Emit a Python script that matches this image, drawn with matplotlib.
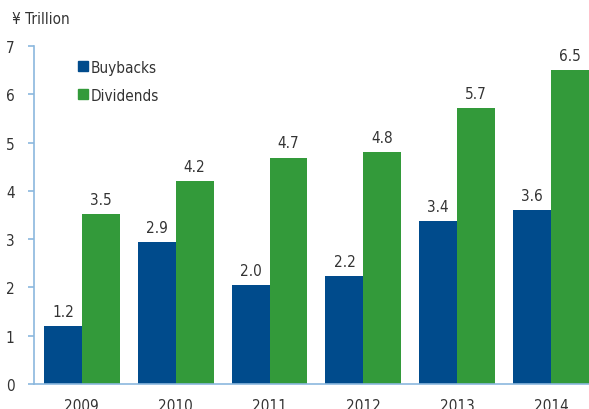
import matplotlib
matplotlib.use("Agg")
import matplotlib.pyplot as plt
import numpy as np
from matplotlib.lines import Line2D
from matplotlib import font_manager

names = {f.name for f in font_manager.fontManager.ttflist}
cond = [f for f in font_manager.fontManager.ttflist
        if f.name == "DejaVu Sans" and "ondensed" in str(f.stretch) + f.fname]
if "Liberation Sans Narrow" in names:
    plt.rcParams['font.family'] = ['Liberation Sans Narrow', 'DejaVu Sans']
else:
    plt.rcParams['font.family'] = ['DejaVu Sans']
    if cond:
        plt.rcParams['font.stretch'] = 'condensed'

years = ["2009", "2010", "2011", "2012", "2013", "2014"]
buybacks = [1.2, 2.94, 2.04, 2.24, 3.37, 3.6]
dividends = [3.52, 4.2, 4.69, 4.8, 5.71, 6.5]
yticks = [0, 1, 2, 3, 4, 5, 6, 7]

blue = "#004b8c"
green = "#339a3a"
spine = "#8bb8de"
txt = "#333333"
fs = 11

fig = plt.figure(figsize=(5.89, 4.10), dpi=100)
ax = fig.add_axes([34/589, 25/410, 555/589, 338/410])

x = np.arange(len(years))
w = 0.404
b1 = ax.bar(x - w/2, buybacks, w, color=blue)
b2 = ax.bar(x + w/2, dividends, w, color=green)

for rects, vals in ((b1, buybacks), (b2, dividends)):
    for r, v in zip(rects, vals):
        ax.text(r.get_x() + r.get_width()/2, v + 0.15, f"{v:.1f}",
                ha="center", va="bottom", fontsize=fs, color=txt)

ax.set_xlim(-0.51, 5.404)
ax.set_ylim(0, 7)
ax.set_yticks(yticks)
ax.set_xticks(x)
ax.set_xticklabels(years)
ax.tick_params(axis="x", length=0, pad=10, labelsize=fs, labelcolor=txt)
ax.tick_params(axis="y", length=4, width=1.2, color=spine, pad=10,
               labelsize=fs, labelcolor=txt)
for s in ("top", "right"):
    ax.spines[s].set_visible(False)
for s in ("left", "bottom"):
    ax.spines[s].set_color(spine)
    ax.spines[s].set_linewidth(1.2)

fig.text(12/589, 1 - 20/410, "¥ Trillion", fontsize=fs, color=txt,
         ha="left", va="center")

handles = [Line2D([], [], marker="s", linestyle="none", color=blue, markersize=7.5),
           Line2D([], [], marker="s", linestyle="none", color=green, markersize=7.5)]
ax.legend(handles, ["Buybacks", "Dividends"], loc="upper left",
          bbox_to_anchor=(0.05, 1.0), frameon=False, fontsize=fs,
          handletextpad=0.0, labelspacing=0.85, handlelength=1.0,
          labelcolor=txt)

fig.savefig("out.png", dpi=100)
